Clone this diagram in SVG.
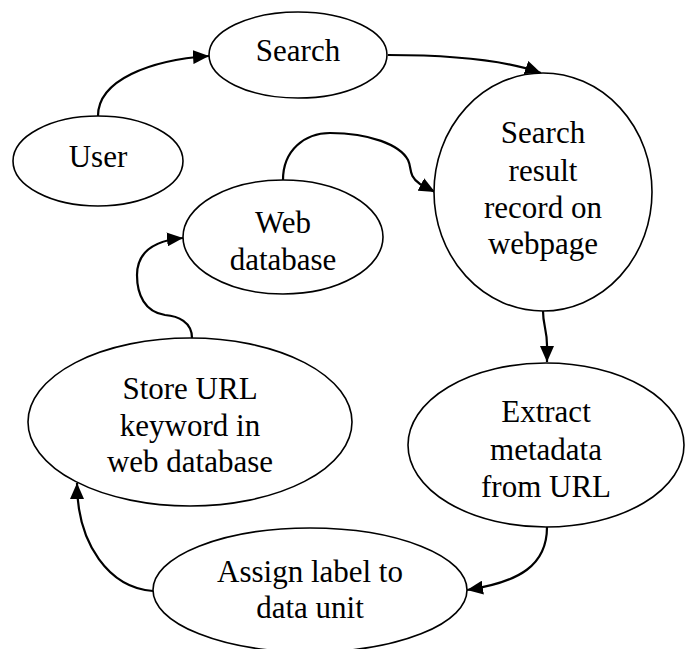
<svg xmlns="http://www.w3.org/2000/svg" width="685" height="649" viewBox="0 0 685 649">
<style>
.n ellipse{fill:#fff;stroke:#000;stroke-width:1.6}
.n text{font-size:31px;fill:#000;text-anchor:middle}
.e path{fill:none;stroke:#000;stroke-width:2.2;marker-end:url(#ah)}
</style>
<defs>
<marker id="ah" markerUnits="userSpaceOnUse" markerWidth="17" markerHeight="14" refX="16" refY="7" orient="auto">
<path d="M0,0 L16,7 L0,14 z" fill="#000"/>
</marker>
</defs>
<rect width="685" height="649" fill="#fff"/>
<g class="e" id="connectors">
<path d="M98,116 C98,80 150,60 209,56"/>
<path d="M388,55 C450,55 505,60 541,73"/>
<path d="M283,180 C283,150 305,133 330,133 C370,133 400,145 408,160 C412,168 408,176 420,184 L435,192"/>
<path d="M192,338 C192,322 178,316 165,315 C145,312 137,295 137,275 C137,255 150,241 183,238"/>
<path d="M543,311 C543,325 547,330 547,345 L547,362"/>
<path d="M547,527 C547,565 520,582 467,590"/>
<path d="M153,591 C110,588 77,545 77,483"/>
</g>
<g font-family="'Liberation Serif', 'DejaVu Serif', serif">
<g class="n" id="user">
<ellipse cx="98" cy="161" rx="85" ry="45"/>
<text x="98" y="167">User</text>
</g>
<g class="n" id="search">
<ellipse cx="298" cy="55" rx="89" ry="43"/>
<text x="298" y="61">Search</text>
</g>
<g class="n" id="search-result">
<ellipse cx="543" cy="192" rx="109" ry="119"/>
<text x="543" y="143">Search</text>
<text x="543" y="181">result</text>
<text x="543" y="218">record on</text>
<text x="543" y="254">webpage</text>
</g>
<g class="n" id="web-database">
<ellipse cx="283" cy="237" rx="100" ry="57"/>
<text x="283" y="233">Web</text>
<text x="283" y="270">database</text>
</g>
<g class="n" id="extract">
<ellipse cx="546" cy="445" rx="138" ry="82"/>
<text x="546" y="422">Extract</text>
<text x="546" y="460">metadata</text>
<text x="546" y="497">from URL</text>
</g>
<g class="n" id="store-url">
<ellipse cx="190" cy="422" rx="162" ry="84"/>
<text x="190" y="399">Store URL</text>
<text x="190" y="436">keyword in</text>
<text x="190" y="472">web database</text>
</g>
<g class="n" id="assign">
<ellipse cx="310" cy="590" rx="157" ry="62"/>
<text x="310" y="582">Assign label to</text>
<text x="310" y="618">data unit</text>
</g>
</g>
</svg>
